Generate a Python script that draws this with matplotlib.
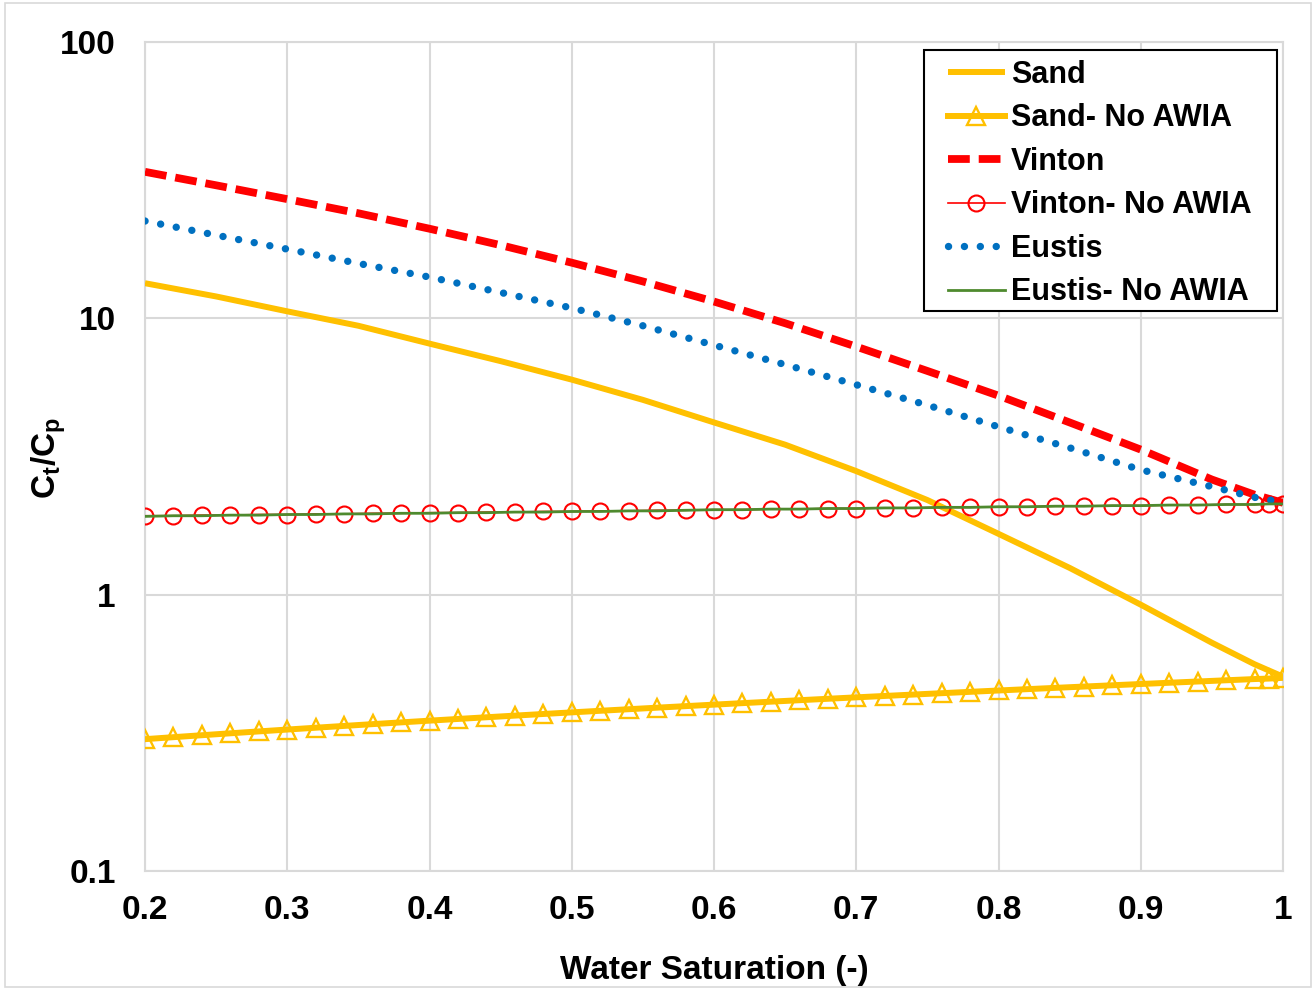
import matplotlib
matplotlib.use("Agg")
import matplotlib.pyplot as plt
from matplotlib.patches import Rectangle

plt.rcParams['font.family'] = ['Liberation Sans', 'DejaVu Sans']
plt.rcParams['font.weight'] = 'bold'
plt.rcParams['mathtext.fontset'] = 'custom'
plt.rcParams['mathtext.rm'] = 'Liberation Sans:bold'
plt.rcParams['mathtext.it'] = 'Liberation Sans:bold'
plt.rcParams['mathtext.bf'] = 'Liberation Sans:bold'

# ---- data ----
sw_line = [0.20, 0.25, 0.30, 0.35, 0.40, 0.45, 0.50, 0.55, 0.60, 0.65,
           0.70, 0.75, 0.80, 0.85, 0.90, 0.95, 0.98, 1.00]
sand = [13.4, 12.0, 10.6, 9.4, 8.1, 7.0, 6.0, 5.07, 4.2, 3.49,
        2.8, 2.2, 1.66, 1.25, 0.92, 0.67, 0.56, 0.505]
vinton = [33.9, 30.3, 27.0, 24.0, 21.1, 18.4, 15.9, 13.6, 11.5, 9.6,
          7.9, 6.45, 5.25, 4.2, 3.35, 2.61, 2.30, 2.15]
eustis = [22.5, 20.0, 17.8, 15.8, 14.1, 12.4, 10.9, 9.4, 8.0, 6.8,
          5.75, 4.85, 4.05, 3.4, 2.83, 2.46, 2.25, 2.16]

sw_mark = [0.20, 0.22, 0.24, 0.26, 0.28, 0.30, 0.32, 0.34, 0.36, 0.38,
           0.40, 0.42, 0.44, 0.46, 0.48, 0.50, 0.52, 0.54, 0.56, 0.58,
           0.60, 0.62, 0.64, 0.66, 0.68, 0.70, 0.72, 0.74, 0.76, 0.78,
           0.80, 0.82, 0.84, 0.86, 0.88, 0.90, 0.92, 0.94, 0.96, 0.98,
           0.99, 1.00]
sand_noawia = [0.300, 0.305, 0.310, 0.315, 0.320, 0.325, 0.330, 0.335, 0.340, 0.345,
               0.350, 0.355, 0.360, 0.365, 0.370, 0.375, 0.380, 0.385, 0.390, 0.395,
               0.400, 0.405, 0.410, 0.415, 0.420, 0.425, 0.430, 0.435, 0.440, 0.445,
               0.450, 0.455, 0.460, 0.465, 0.470, 0.475, 0.480, 0.485, 0.490, 0.495,
               0.497, 0.500]
vinton_noawia = [1.93, 1.93, 1.94, 1.94, 1.95, 1.95, 1.96, 1.96, 1.97, 1.97,
                 1.98, 1.98, 1.99, 1.99, 2.00, 2.00, 2.01, 2.01, 2.02, 2.02,
                 2.03, 2.03, 2.04, 2.04, 2.05, 2.05, 2.06, 2.06, 2.07, 2.07,
                 2.08, 2.08, 2.09, 2.09, 2.10, 2.10, 2.11, 2.11, 2.12, 2.12,
                 2.13, 2.13]
eustis_noawia = [1.92, 1.93, 1.93, 1.94, 1.94, 1.95, 1.95, 1.96, 1.96, 1.97,
                 1.97, 1.98, 1.98, 1.99, 1.99, 2.00, 2.00, 2.01, 2.01, 2.02,
                 2.03, 2.03, 2.04, 2.04, 2.05, 2.05, 2.06, 2.06, 2.07, 2.07,
                 2.08, 2.08, 2.09, 2.09, 2.10, 2.10, 2.11, 2.11, 2.12, 2.12,
                 2.13, 2.13]

x_ticks = [0.2, 0.3, 0.4, 0.5, 0.6, 0.7, 0.8, 0.9, 1.0]
x_ticklabels = ['0.2', '0.3', '0.4', '0.5', '0.6', '0.7', '0.8', '0.9', '1']
y_ticks = [0.1, 1, 10, 100]
y_ticklabels = ['0.1', '1', '10', '100']

# ---- figure ----
W, H = 1316, 990
fig = plt.figure(figsize=(W/100, H/100), dpi=100)
ax = fig.add_axes([145/W, 1-871/H, (1283-145)/W, (871-42)/H])

fig.patches.append(Rectangle((0.004, 0.003), 0.992, 0.994, transform=fig.transFigure,
                             fill=False, edgecolor='#d9d9d9', linewidth=1.2))

SAND_C = '#FFC000'
VIN_C = '#FF0000'
EUS_C = '#0070C0'
GRN_C = '#4E8A2E'

ax.plot(sw_line, sand, color=SAND_C, lw=4.3, label='Sand', zorder=3,
        solid_capstyle='butt')
ax.plot(sw_mark, sand_noawia, color=SAND_C, lw=4.3, marker='^', ms=13,
        mfc='none', mec=SAND_C, mew=1.7, label='Sand- No AWIA', zorder=4)
ax.plot(sw_line, vinton, color=VIN_C, lw=5.6, linestyle=(0, (2.8, 1.15)),
        dash_capstyle='butt', label='Vinton', zorder=5)
ax.plot(sw_mark, vinton_noawia, color=VIN_C, lw=1.2, marker='o', ms=11.5,
        mfc='none', mec=VIN_C, mew=1.5, label='Vinton- No AWIA', zorder=6)
ax.plot(sw_line, eustis, color=EUS_C, lw=5.3, linestyle=(0, (0.01, 2.15)),
        dash_capstyle='round', label='Eustis', zorder=7)
ax.plot(sw_mark, eustis_noawia, color=GRN_C, lw=2.0, label='Eustis- No AWIA',
        zorder=8)

ax.set_yscale('log')
ax.set_xlim(0.2, 1.0)
ax.set_ylim(0.1, 100)
ax.set_xticks(x_ticks)
ax.set_xticklabels(x_ticklabels)
ax.set_yticks(y_ticks)
ax.set_yticklabels(y_ticklabels)
ax.yaxis.set_minor_locator(matplotlib.ticker.NullLocator())
ax.tick_params(axis='both', length=0, labelsize=24)
ax.tick_params(axis='x', pad=17)
ax.tick_params(axis='y', pad=21)
for lab in ax.get_xticklabels() + ax.get_yticklabels():
    lab.set_fontweight('bold')

ax.grid(True, color='#d9d9d9', linewidth=1.5)
ax.set_axisbelow(True)
for s in ax.spines.values():
    s.set_color('#d9d9d9')
    s.set_linewidth(1.5)

ax.set_xlabel('Water Saturation (-)', fontsize=24, fontweight='bold', labelpad=21)
ax.set_ylabel(r'C$_\mathregular{t}$/C$_\mathregular{p}$', fontsize=24,
              fontweight='bold')
ax.yaxis.set_label_coords((68-145)/1138, (871-458)/829)

# legend: content placed in figure coords, frame drawn as a separate rectangle
leg = fig.legend(*ax.get_legend_handles_labels(), loc='upper left',
                 bbox_to_anchor=(948/W, 1-60/H), bbox_transform=fig.transFigure,
                 borderaxespad=0, borderpad=0, fontsize=22, frameon=False,
                 handlelength=1.85, handletextpad=0.2, labelspacing=0.44)
for t in leg.get_texts():
    t.set_fontweight('bold')
fig.patches.append(Rectangle((924/W, 1-311/H), (1277-924)/W, (311-50)/H,
                             transform=fig.transFigure, facecolor='white',
                             edgecolor='black', linewidth=1.5, zorder=0.5))
leg.set_zorder(10)

fig.savefig('out.png', dpi=100)
